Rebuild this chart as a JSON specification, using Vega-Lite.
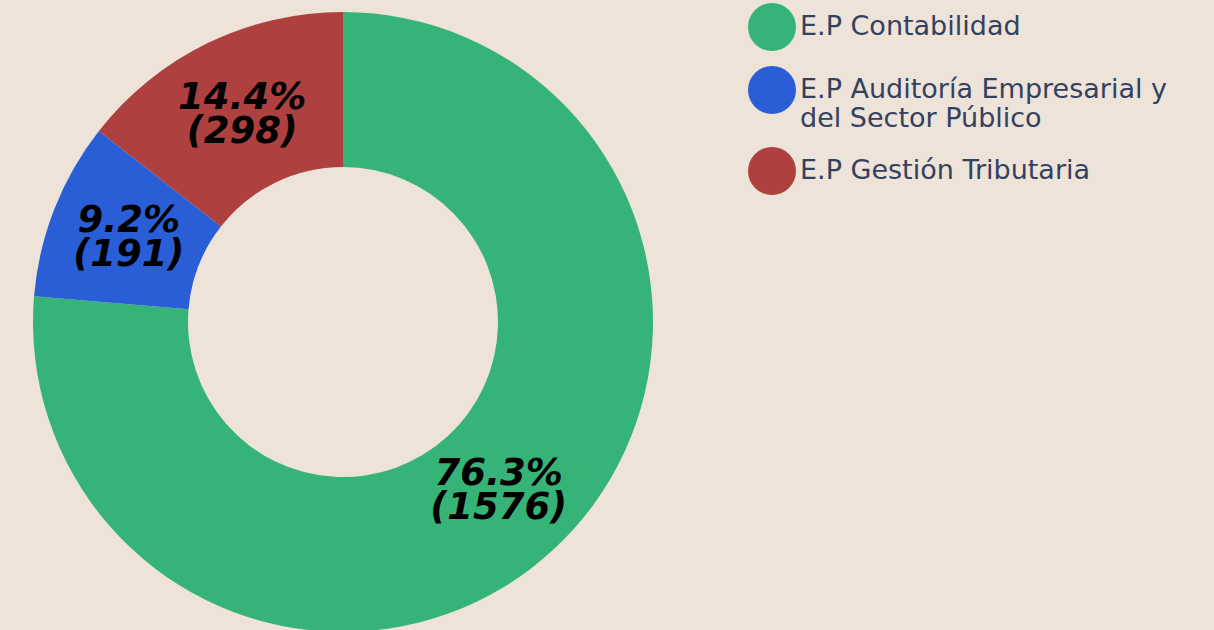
{
  "$schema": "https://vega.github.io/schema/vega-lite/v6.json",
  "width": 686,
  "height": 644,
  "padding": {"left": 0, "top": 0, "right": 120, "bottom": 0},
  "autosize": {"type": "pad"},
  "background": "#EDE3D8",
  "config": {"view": {"stroke": null}},
  "data": {
    "values": [
      {"programa": "E.P Contabilidad", "n": 1576, "ord": 1, "label": "76.3%\n(1576)"},
      {"programa": "E.P Auditoría Empresarial y del Sector Público", "n": 191, "ord": 2, "label": "9.2%\n(191)"},
      {"programa": "E.P Gestión Tributaria", "n": 298, "ord": 3, "label": "14.4%\n(298)"}
    ]
  },
  "encoding": {
    "theta": {"field": "n", "type": "quantitative", "stack": true},
    "order": {"field": "ord", "type": "quantitative"}
  },
  "layer": [
    {
      "mark": {"type": "arc", "outerRadius": 310, "innerRadius": 155},
      "encoding": {
        "color": {
          "field": "programa",
          "type": "nominal",
          "sort": ["E.P Contabilidad", "E.P Auditoría Empresarial y del Sector Público", "E.P Gestión Tributaria"],
          "scale": {
            "domain": ["E.P Contabilidad", "E.P Auditoría Empresarial y del Sector Público", "E.P Gestión Tributaria"],
            "range": ["#36B478", "#2A5ED6", "#AF4040"]
          },
          "legend": {
            "title": null,
            "orient": "none",
            "legendX": 748,
            "legendY": 3,
            "symbolType": "circle",
            "symbolSize": 2304,
            "symbolStrokeWidth": 0,
            "symbolOpacity": 1,
            "labelFont": "DejaVu Sans",
            "labelFontSize": 27,
            "labelColor": "#34405E",
            "labelOffset": 4,
            "labelLimit": 500,
            "rowPadding": 15,
            "padding": 0,
            "labelExpr": "datum.label == 'E.P Auditoría Empresarial y del Sector Público' ? ['E.P Auditoría Empresarial y', 'del Sector Público'] : datum.label"
          }
        }
      }
    },
    {
      "mark": {
        "type": "text",
        "radius": 230,
        "dy": -17,
        "font": "DejaVu Sans",
        "fontSize": 37,
        "fontWeight": "bold",
        "fontStyle": "italic",
        "lineBreak": "\n",
        "lineHeight": 34,
        "color": "#000000",
        "align": "center",
        "baseline": "middle"
      },
      "encoding": {"text": {"field": "label", "type": "nominal"}}
    }
  ]
}
